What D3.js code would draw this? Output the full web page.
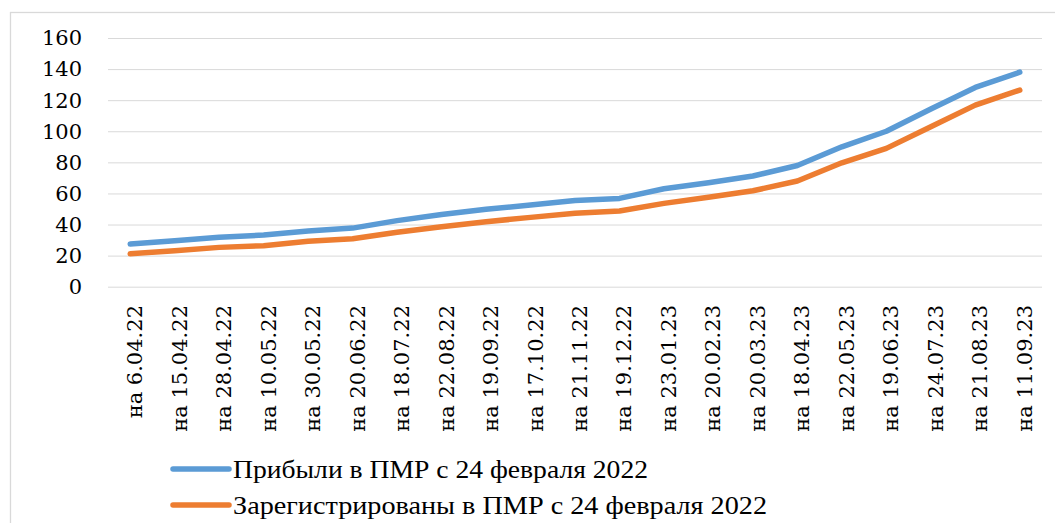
<!DOCTYPE html>
<html>
<head>
<meta charset="utf-8">
<script src="https://cdn.jsdelivr.net/npm/d3@7"></script>
<style>
	body { margin: 0; background: #fff; }
	svg { display: block; }
	.grid line { stroke: #d9d9d9; stroke-width: 1; }
	.grid path { display: none; }
	.tick-label { font-family: "DejaVu Serif", serif; font-size: 21px; fill: #000; }
	.legend-text { font-family: "Liberation Serif", serif; font-size: 26px; fill: #000; }
</style>
</head>
<body>
<div id="chart"></div>
<script>
// dates (x categories)
var dates = ["6.04.22", "15.04.22", "28.04.22", "10.05.22", "30.05.22", "20.06.22", "18.07.22",
	"22.08.22", "19.09.22", "17.10.22", "21.11.22", "19.12.22", "23.01.23", "20.02.23",
	"20.03.23", "18.04.23", "22.05.23", "19.06.23", "24.07.23", "21.08.23", "11.09.23"];

var seriesNames = ["Прибыли в ПМР с 24 февраля 2022", "Зарегистрированы в ПМР с 24 февраля 2022"];
var seriesColors = ["#5b9bd5", "#ed7d31"];

// thousands of people
var arrived = [27.5, 29.6, 31.8, 33.2, 35.8, 37.7, 42.5, 46.5, 49.8, 52.5, 55.5, 56.8, 63, 66.9,
	71.2, 78, 90, 100, 114.3, 128.2, 138];
var registered = [21.2, 23.2, 25.3, 26.4, 29.2, 30.9, 35, 38.6, 41.8, 44.6, 47.2, 48.7, 53.6, 57.5,
	61.7, 68, 79.7, 89, 102.9, 116.8, 126.5];

var yTicks = [0, 20, 40, 60, 80, 100, 120, 140, 160];

var width = 1055, height = 523;
var plot = { left: 108, right: 1042, top: 38, bottom: 286.7 };

var svg = d3.select("#chart")
	.append("svg")
	.attr("width", width)
	.attr("height", height);

// chart area border
svg.append("rect")
	.attr("x", 10.5)
	.attr("y", 12.5)
	.attr("width", 1100)
	.attr("height", 600)
	.attr("fill", "none")
	.attr("stroke", "#d9d9d9")
	.attr("stroke-width", 1.3);

// Scale
var xScale = d3.scalePoint()
	.domain(dates)
	.range([plot.left, plot.right])
	.padding(0.5);

var yScale = d3.scaleLinear()
	.domain([0, 160])
	.range([plot.bottom, plot.top]);

// Gridline
var gridlines = d3.axisLeft()
	.scale(yScale)
	.tickValues(yTicks)
	.tickFormat("")
	.tickSize(-(plot.right - plot.left));

svg.append("g")
	.attr("class", "grid")
	.attr("transform", "translate(" + plot.left + ",0)")
	.call(gridlines);

// y labels
svg.append("g")
	.selectAll("text")
	.data(yTicks)
	.enter()
	.append("text")
	.attr("class", "tick-label")
	.attr("x", 82)
	.attr("y", function(d) { return yScale(d); })
	.attr("dy", "0.35em")
	.attr("text-anchor", "end")
	.text(function(d) { return d; });

// x labels
svg.append("g")
	.selectAll("text")
	.data(dates)
	.enter()
	.append("text")
	.attr("class", "tick-label")
	.attr("transform", function(d) {
		return "translate(" + xScale(d) + ",305) rotate(-90)";
	})
	.attr("dy", 12)
	.attr("text-anchor", "end")
	.text(function(d) { return "на " + d; });

// lines
var line = d3.line()
	.x(function(d, i) { return xScale(dates[i]); })
	.y(function(d) { return yScale(d); });

[arrived, registered].forEach(function(values, k) {
	svg.append("path")
		.datum(values)
		.attr("d", line)
		.attr("fill", "none")
		.attr("stroke", seriesColors[k])
		.attr("stroke-width", 5.5)
		.attr("stroke-linejoin", "round")
		.attr("stroke-linecap", "round");
});

// legend
var legendY = [469, 505];
var legendLen = [415, 534];
seriesNames.forEach(function(name, k) {
	svg.append("line")
		.attr("x1", 173)
		.attr("x2", 229)
		.attr("y1", legendY[k])
		.attr("y2", legendY[k])
		.attr("stroke", seriesColors[k])
		.attr("stroke-width", 5.5)
		.attr("stroke-linecap", "round");
	svg.append("text")
		.attr("class", "legend-text")
		.attr("x", 233)
		.attr("y", legendY[k] + 9)
		.attr("textLength", legendLen[k])
		.attr("lengthAdjust", "spacingAndGlyphs")
		.text(name);
});
</script>
</body>
</html>
